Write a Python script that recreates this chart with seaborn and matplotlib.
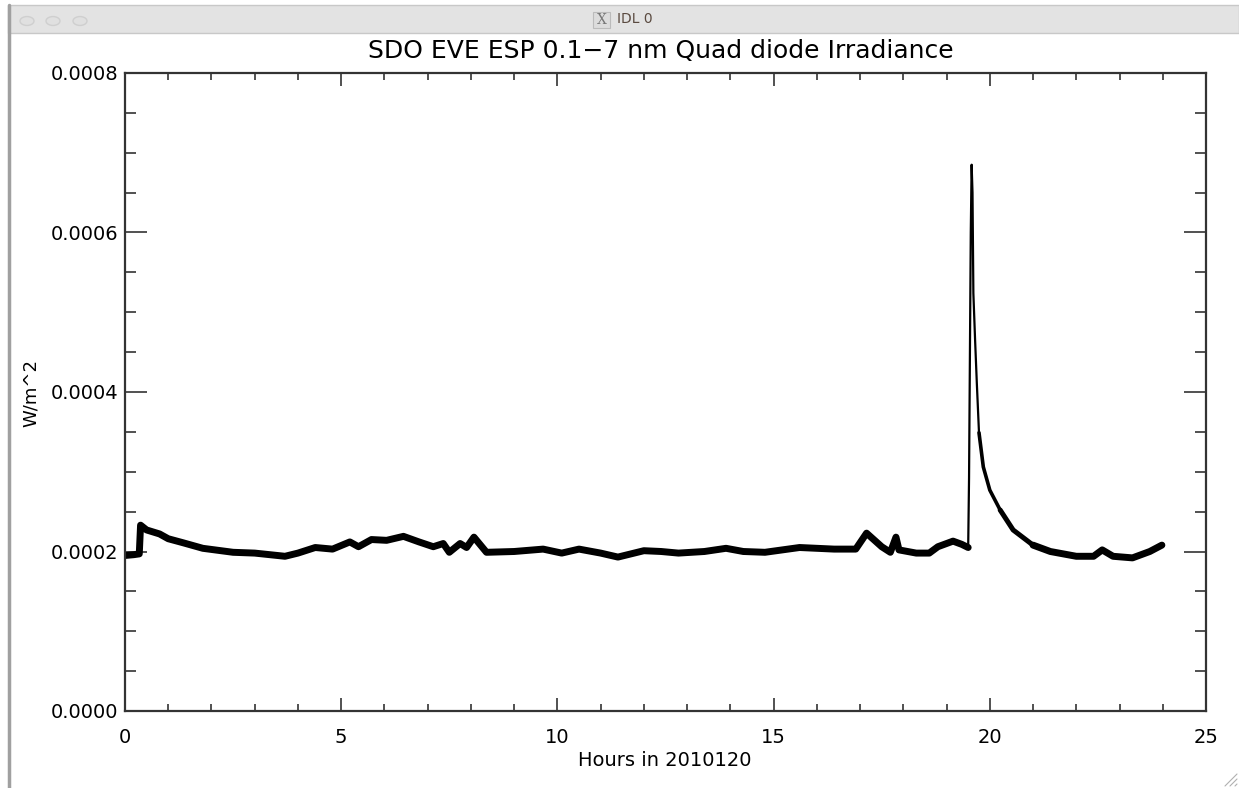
import numpy as np
import pandas as pd
import seaborn as sns
import matplotlib.pyplot as plt
from matplotlib.patches import Rectangle, Circle
from matplotlib.lines import Line2D
from matplotlib.ticker import MultipleLocator

# values (hours of day 2010-120, irradiance in W/m^2)
hours = [0.0, 0.2, 0.33, 0.36, 0.5, 0.8, 1.0, 1.34, 1.8, 2.5, 3.0, 3.7, 4.0, 4.4,
         4.8, 5.2, 5.4, 5.7, 6.05, 6.44, 6.8, 7.13, 7.36, 7.5, 7.75, 7.9, 8.07,
         8.36, 9.0, 9.67, 10.1, 10.5, 11.0, 11.4, 12.0, 12.4, 12.8, 13.4, 13.9,
         14.3, 14.8, 15.6, 16.0, 16.4, 16.9, 17.15, 17.5, 17.7, 17.83, 17.9,
         18.3, 18.6, 18.8, 19.15, 19.35, 19.5, 19.52, 19.56, 19.58, 19.60, 19.62,
         19.66, 19.70, 19.75, 19.85, 20.0, 20.24, 20.54, 21.0, 21.4, 22.0, 22.4,
         22.6, 22.85, 23.3, 23.7, 23.98]
irradiance_e4 = [1.95, 1.96, 1.97, 2.33, 2.27, 2.22, 2.16, 2.11, 2.04, 1.99, 1.98,
                 1.94, 1.98, 2.05, 2.03, 2.12, 2.06, 2.15, 2.14, 2.19, 2.12, 2.06,
                 2.10, 1.99, 2.10, 2.05, 2.18, 1.99, 2.00, 2.03, 1.98, 2.03, 1.98,
                 1.93, 2.01, 2.00, 1.98, 2.00, 2.04, 2.00, 1.99, 2.05, 2.04, 2.03,
                 2.03, 2.23, 2.06, 1.99, 2.18, 2.02, 1.98, 1.98, 2.06, 2.13, 2.09,
                 2.05, 2.92, 6.00, 6.85, 6.50, 5.24, 4.65, 4.11, 3.49, 3.06, 2.77,
                 2.52, 2.27, 2.08, 2.00, 1.94, 1.94, 2.02, 1.94, 1.92, 2.00, 2.08]

title = "SDO EVE ESP 0.1\u22127 nm Quad diode Irradiance"
xlabel = "Hours in 2010120"
ylabel = "W/m^2"
window_title = "IDL 0"

df = pd.DataFrame({"hour": hours, "irr": np.array(irradiance_e4) * 1e-4})

sns.set_style("ticks")
plt.rcParams['font.family'] = ['DejaVu Sans']
plt.rcParams['text.color'] = 'black'
plt.rcParams['xtick.labelcolor'] = 'black'
plt.rcParams['ytick.labelcolor'] = 'black'

W, H = 1239, 788
fig = plt.figure(figsize=(W / 100, H / 100), dpi=100)
fig.patch.set_facecolor("white")

ax = fig.add_axes([125 / W, 1 - 711 / H, (1206 - 125) / W, (711 - 73) / H])

# quiet sun is a thick noisy band, the flare rise is thin, the decay in between
segments = [(0.0, 19.5, 5), (19.5, 19.75, 1.6), (19.75, 20.3, 2.6),
            (20.24, 21.0, 3.6), (21.0, 24.0, 5)]
for lo, hi, lw in segments:
    part = df[(df.hour >= lo) & (df.hour <= hi)]
    sns.lineplot(data=part, x="hour", y="irr", ax=ax, color="black",
                 lw=lw, estimator=None, sort=False)

ax.set_xlim(0, 25)
ax.set_ylim(0, 0.0008)
ax.xaxis.set_major_locator(MultipleLocator(5))
ax.xaxis.set_minor_locator(MultipleLocator(1))
ax.yaxis.set_major_locator(MultipleLocator(0.0002))
ax.yaxis.set_minor_locator(MultipleLocator(0.00005))
ax.yaxis.set_major_formatter(plt.FuncFormatter(lambda v, p: f"{v:.4f}"))

axis_col = "#333333"
for s in ax.spines.values():
    s.set_visible(True)
    s.set_color(axis_col)
    s.set_linewidth(1.6)
ax.tick_params(axis="x", which="major", direction="in", length=9.5, width=1.2,
               top=True, bottom=True, color=axis_col, labelsize=14, pad=12)
ax.tick_params(axis="x", which="minor", direction="in", length=5, width=1.2,
               top=True, bottom=True, color=axis_col)
ax.tick_params(axis="y", which="major", direction="in", length=16, width=1.2,
               left=True, right=True, color=axis_col, labelsize=14, pad=5)
ax.tick_params(axis="y", which="minor", direction="in", length=8, width=1.2,
               left=True, right=True, color=axis_col)

ax.set_xlabel("")
ax.set_ylabel("")
fig.text(665 / W, 1 - 760 / H, xlabel, ha="center", va="center", fontsize=14)
fig.text(31 / W, 1 - 393 / H, ylabel, ha="center", va="center", fontsize=13, rotation=90)
fig.text(661 / W, 1 - 51 / H, title, ha="center", va="center", fontsize=18)

# window chrome of the IDL graphics window
fig.patches.append(Rectangle((8 / W, 1 - 33 / H), 1 - 8 / W, 28 / H, transform=fig.transFigure,
                             facecolor="#e3e3e3", edgecolor="#c8c8c8", lw=1, zorder=-1))
fig.lines.append(Line2D([9 / W, 9 / W], [0, 1 - 5 / H], transform=fig.transFigure,
                        color="#a0a0a0", lw=2.5))
for cx in (27, 53, 80):
    fig.patches.append(Circle((cx / W, 1 - 21 / H), 7 / W, transform=fig.transFigure,
                              facecolor="#e0e0e0", edgecolor="#cfcfcf", lw=1))
fig.patches.append(Rectangle((593 / W, 1 - 28 / H), 17 / W, 16 / H, transform=fig.transFigure,
                             facecolor="#dcdcdc", edgecolor="#bbbbbb", lw=0.8))
fig.text(601.5 / W, 1 - 20 / H, "X", ha="center", va="center", fontsize=10,
         color="#777777", family="DejaVu Serif")
fig.text(617 / W, 1 - 19 / H, window_title, ha="left", va="center", fontsize=10, color="#5a4a40")
for k in range(3):
    fig.lines.append(Line2D([(1225 + 5 * k) / W, 1237 / W], [1 - 786 / H, 1 - (774 + 5 * k) / H],
                            transform=fig.transFigure, color="#b0b0b0", lw=0.8))

fig.savefig("out.png", dpi=100)
